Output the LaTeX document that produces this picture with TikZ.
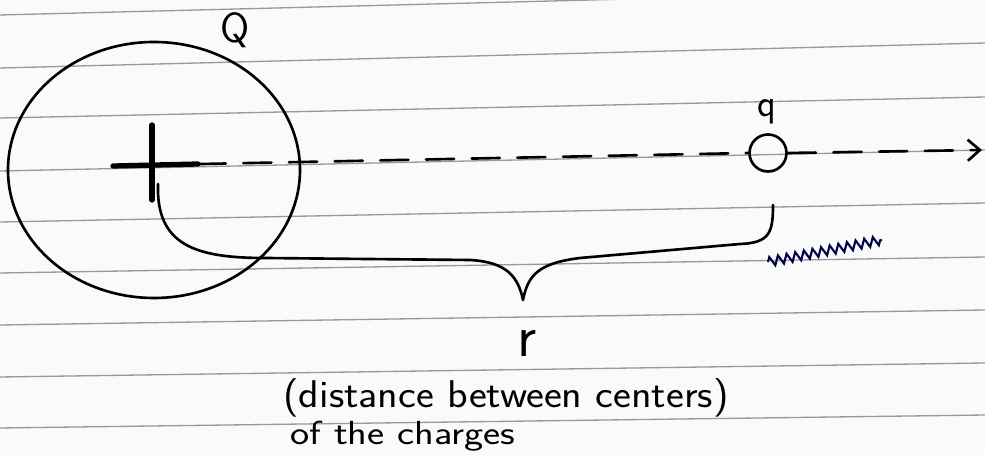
\documentclass[tikz,border=0pt]{standalone}
\usetikzlibrary{arrows.meta,decorations.pathmorphing}

\begin{document}
\begin{tikzpicture}[x=0.02cm,y=-0.02cm,
    ink/.style={line width=1.5pt, line cap=round, line join=round},
    rule/.style={line width=0.75pt, gray!80},
    axis/.style={ink, dash pattern=on 16pt off 10pt},
    scribble/.style={line width=1.2pt, blue!30!black,
      decorate, decoration={zigzag, amplitude=2.6pt, segment length=5pt}}
  ]

  % Paper and its ruled lines
  \useasboundingbox[fill=black!2] (0,0) rectangle (985,455);
  \foreach \yl/\yr in {15/-10, 68/43, 118/97, 171/150, 222/203,
                       273/257, 325/310, 377/363, 428/415} {
    \draw[rule] (0,\yl) -- (985,\yr);
  }

  % Define coordinates
  \coordinate (C) at (152,165);   % centre of the big charge
  \coordinate (Ptop) at (152,125);
  \coordinate (Pbot) at (152,200);
  \coordinate (Pleft) at (113,166);
  \coordinate (Pright) at (198,164);
  \coordinate (tip) at (982,150);
  \coordinate (bl) at (158,184);  % brace, left end
  \coordinate (cusp) at (523,300);
  \coordinate (br) at (773,205);  % brace, right end
  \coordinate (s1) at (768,262);
  \coordinate (s2) at (882,240);

  % Big charge Q
  \draw[ink] (154,170) ellipse [x radius=146, y radius=128];
  \draw[ink, line width=3pt] (Pleft) -- (Pright);
  \draw[ink, line width=3pt] (Ptop) -- (Pbot);
  \node (Qlab) at (235,30) {\sffamily\fontsize{24}{24}\selectfont Q};

  % Small charge q
  \node[draw, ink, circle, minimum size=0.74cm, inner sep=0pt] (q) at (768,153) {};
  \node (qlab) at (767,112) {\sffamily\fontsize{22}{22}\selectfont q};

  % Line through both centres
  \draw[axis] (C) -- (q.west);
  \draw[axis, -{Straight Barb[length=7pt, width=12pt, line width=1.5pt]}] (q.east) -- (tip);

  % Brace for r
  \draw[ink] (bl) .. controls (156,245) and (195,258) .. (265,258)
    -- (470,260) .. controls (506,262) and (518,276) .. (cusp)
    .. controls (528,274) and (540,263) .. (580,258)
    -- (740,244) .. controls (770,243) and (773,232) .. (br);
  \draw[scribble] (s1) -- (s2);

  % Labels
  \node (r) at (527,343) {\sffamily\fontsize{34}{34}\selectfont r};
  \node[anchor=west, xscale=1.1, inner sep=0pt] (dist) at (283,398)
    {\sffamily\fontsize{22}{22}\selectfont (distance between centers)};
  \node[anchor=west, xscale=1.22, inner sep=0pt] (ofch) at (290,436)
    {\sffamily\fontsize{19}{19}\selectfont of the charges};

\end{tikzpicture}
\end{document}
